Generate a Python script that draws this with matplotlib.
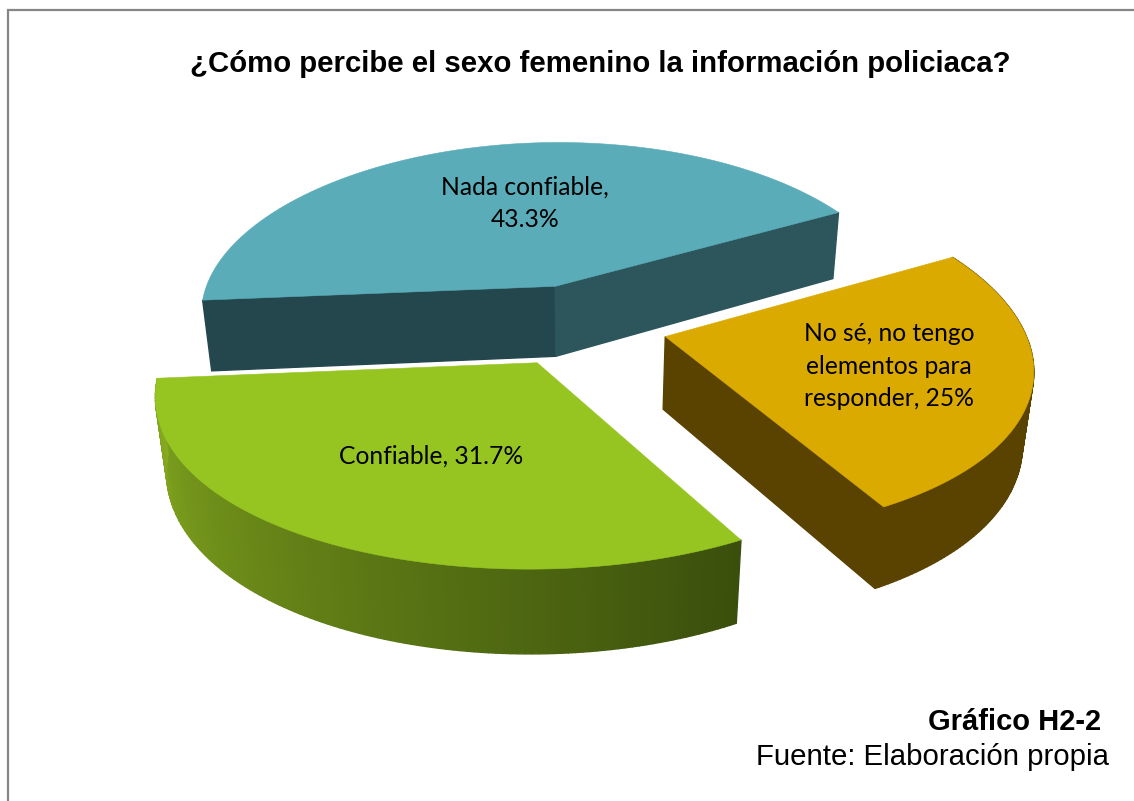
# pie3d_percepcion.py
"""
Exploded 3D pie: how women perceive police information
"""
import numpy as np
import matplotlib
matplotlib.use("Agg")
import matplotlib.pyplot as plt
from matplotlib.patches import Polygon
from matplotlib.colors import to_rgb

# Data (clockwise from start angle)
categories = ["No sé, no tengo\nelementos para\nresponder, 25%", "Confiable, 31.7%", "Nada confiable,\n43.3%"]
values = [25.0, 31.7, 43.3]
top_colors = ["#dbaa00", "#96c522", "#5aacb8"]

title = "¿Cómo percibe el sexo femenino la información policiaca?"
caption = "Gráfico H2-2"
source = "Fuente: Elaboración propia"

# Projection settings (pixels of the 1134x801 canvas)
CX, CY = 580, 325
RX, RY = 360, 170.6
DEPTH = 72
PERSP_Y = 0.124   # nearer points get taller
PERSP_YX = 0.16   # nearer points get wider
PERSP_X = 0.005   # left side slightly nearer
PERSP_Z = 0.025   # lower points get narrower
START = 29
EXPLODE = 0.244


def project(x, y, z=0.0):
    sy = 1.0 / (1.0 - PERSP_Y * y)
    sx = 1.0 / (1.0 - PERSP_YX * y + PERSP_X * x + PERSP_Z * z)
    return CX + RX * x * sx, CY + (RY * y + DEPTH * z) * sy


def mix(c1, c2, t):
    c1, c2 = np.array(to_rgb(c1)), np.array(to_rgb(c2))
    return tuple(c1 + (c2 - c1) * t)


fig = plt.figure(figsize=(11.34, 8.01), dpi=100)
ax = fig.add_axes([0, 0, 1, 1])
ax.set_xlim(0, 1134)
ax.set_ylim(801, 0)
ax.axis("off")

# Chart frame, only top and left are inside the crop
ax.plot([1134, 8, 8], [10, 10, 801], color="#868686", lw=1.6, solid_joinstyle="miter")

# Slice angles from the values
sweeps = np.array(values) / sum(values) * 360
ends = START - np.cumsum(sweeps)
starts = ends + sweeps

slices = []
for a0, a1 in zip(starts, ends):
    mid = np.radians((a0 + a1) / 2)
    ox, oy = EXPLODE * np.cos(mid), -EXPLODE * np.sin(mid)
    t = np.radians(np.linspace(a0, a1, 120))
    slices.append((ox + np.cos(t), oy - np.sin(t), ox, oy))

(yx, yy, yox, yoy), (gx, gy, gox, goy), (tx, ty, tox, toy) = slices


def wall(x0, y0, x1, y1, color):
    pts = [project(x0, y0), project(x1, y1), project(x1, y1, 1), project(x0, y0, 1)]
    ax.add_patch(Polygon(pts, closed=True, fc=color, ec=color, lw=1.0))


def top(xs, ys, ox, oy, color):
    pts = [project(ox, oy)] + [project(a, b) for a, b in zip(xs, ys)]
    ax.add_patch(Polygon(pts, closed=True, fc=color, ec=color, lw=0.4, zorder=3))


# Teal: two straight walls towards the viewer
wall(tox, toy, tx[0], ty[0], "#24474e")
wall(tox, toy, tx[-1], ty[-1], "#2c555c")
top(tx, ty, tox, toy, top_colors[2])

# Yellow: straight wall and curved wall
wall(yox, yoy, yx[-1], yy[-1], "#5a4300")
for i in range(len(yx) - 1):
    wall(yx[i], yy[i], yx[i + 1], yy[i + 1], "#5a4300")
top(yx, yy, yox, yoy, top_colors[0])

# Green: curved wall shaded left to right
n = len(gx) - 1
for i in range(n):
    shade = mix("#3a4f0c", "#86ab20", i / n)
    wall(gx[i], gy[i], gx[i + 1], gy[i + 1], shade)
top(gx, gy, gox, goy, top_colors[1])

# Data labels
label_font = "Lato"
ax.text(525, 203, categories[2], ha="center", va="center", fontsize=17.7, family=label_font, zorder=5, linespacing=1.5)
ax.text(431, 456, categories[1], ha="center", va="center", fontsize=17.7, family=label_font, zorder=5)
ax.text(889, 366, categories[0], ha="center", va="center", fontsize=17.7, family=label_font, zorder=5, linespacing=1.5)

# Titles
ax.text(600, 64, title, ha="center", va="center", fontsize=21.2, fontweight="bold", family="Liberation Sans")
ax.text(1101, 722, caption, ha="right", va="center", fontsize=21, fontweight="bold", family="Liberation Sans")
ax.text(1109, 757, source, ha="right", va="center", fontsize=21.2, family="Liberation Sans")

fig.savefig("out.png", dpi=100, facecolor="white")
